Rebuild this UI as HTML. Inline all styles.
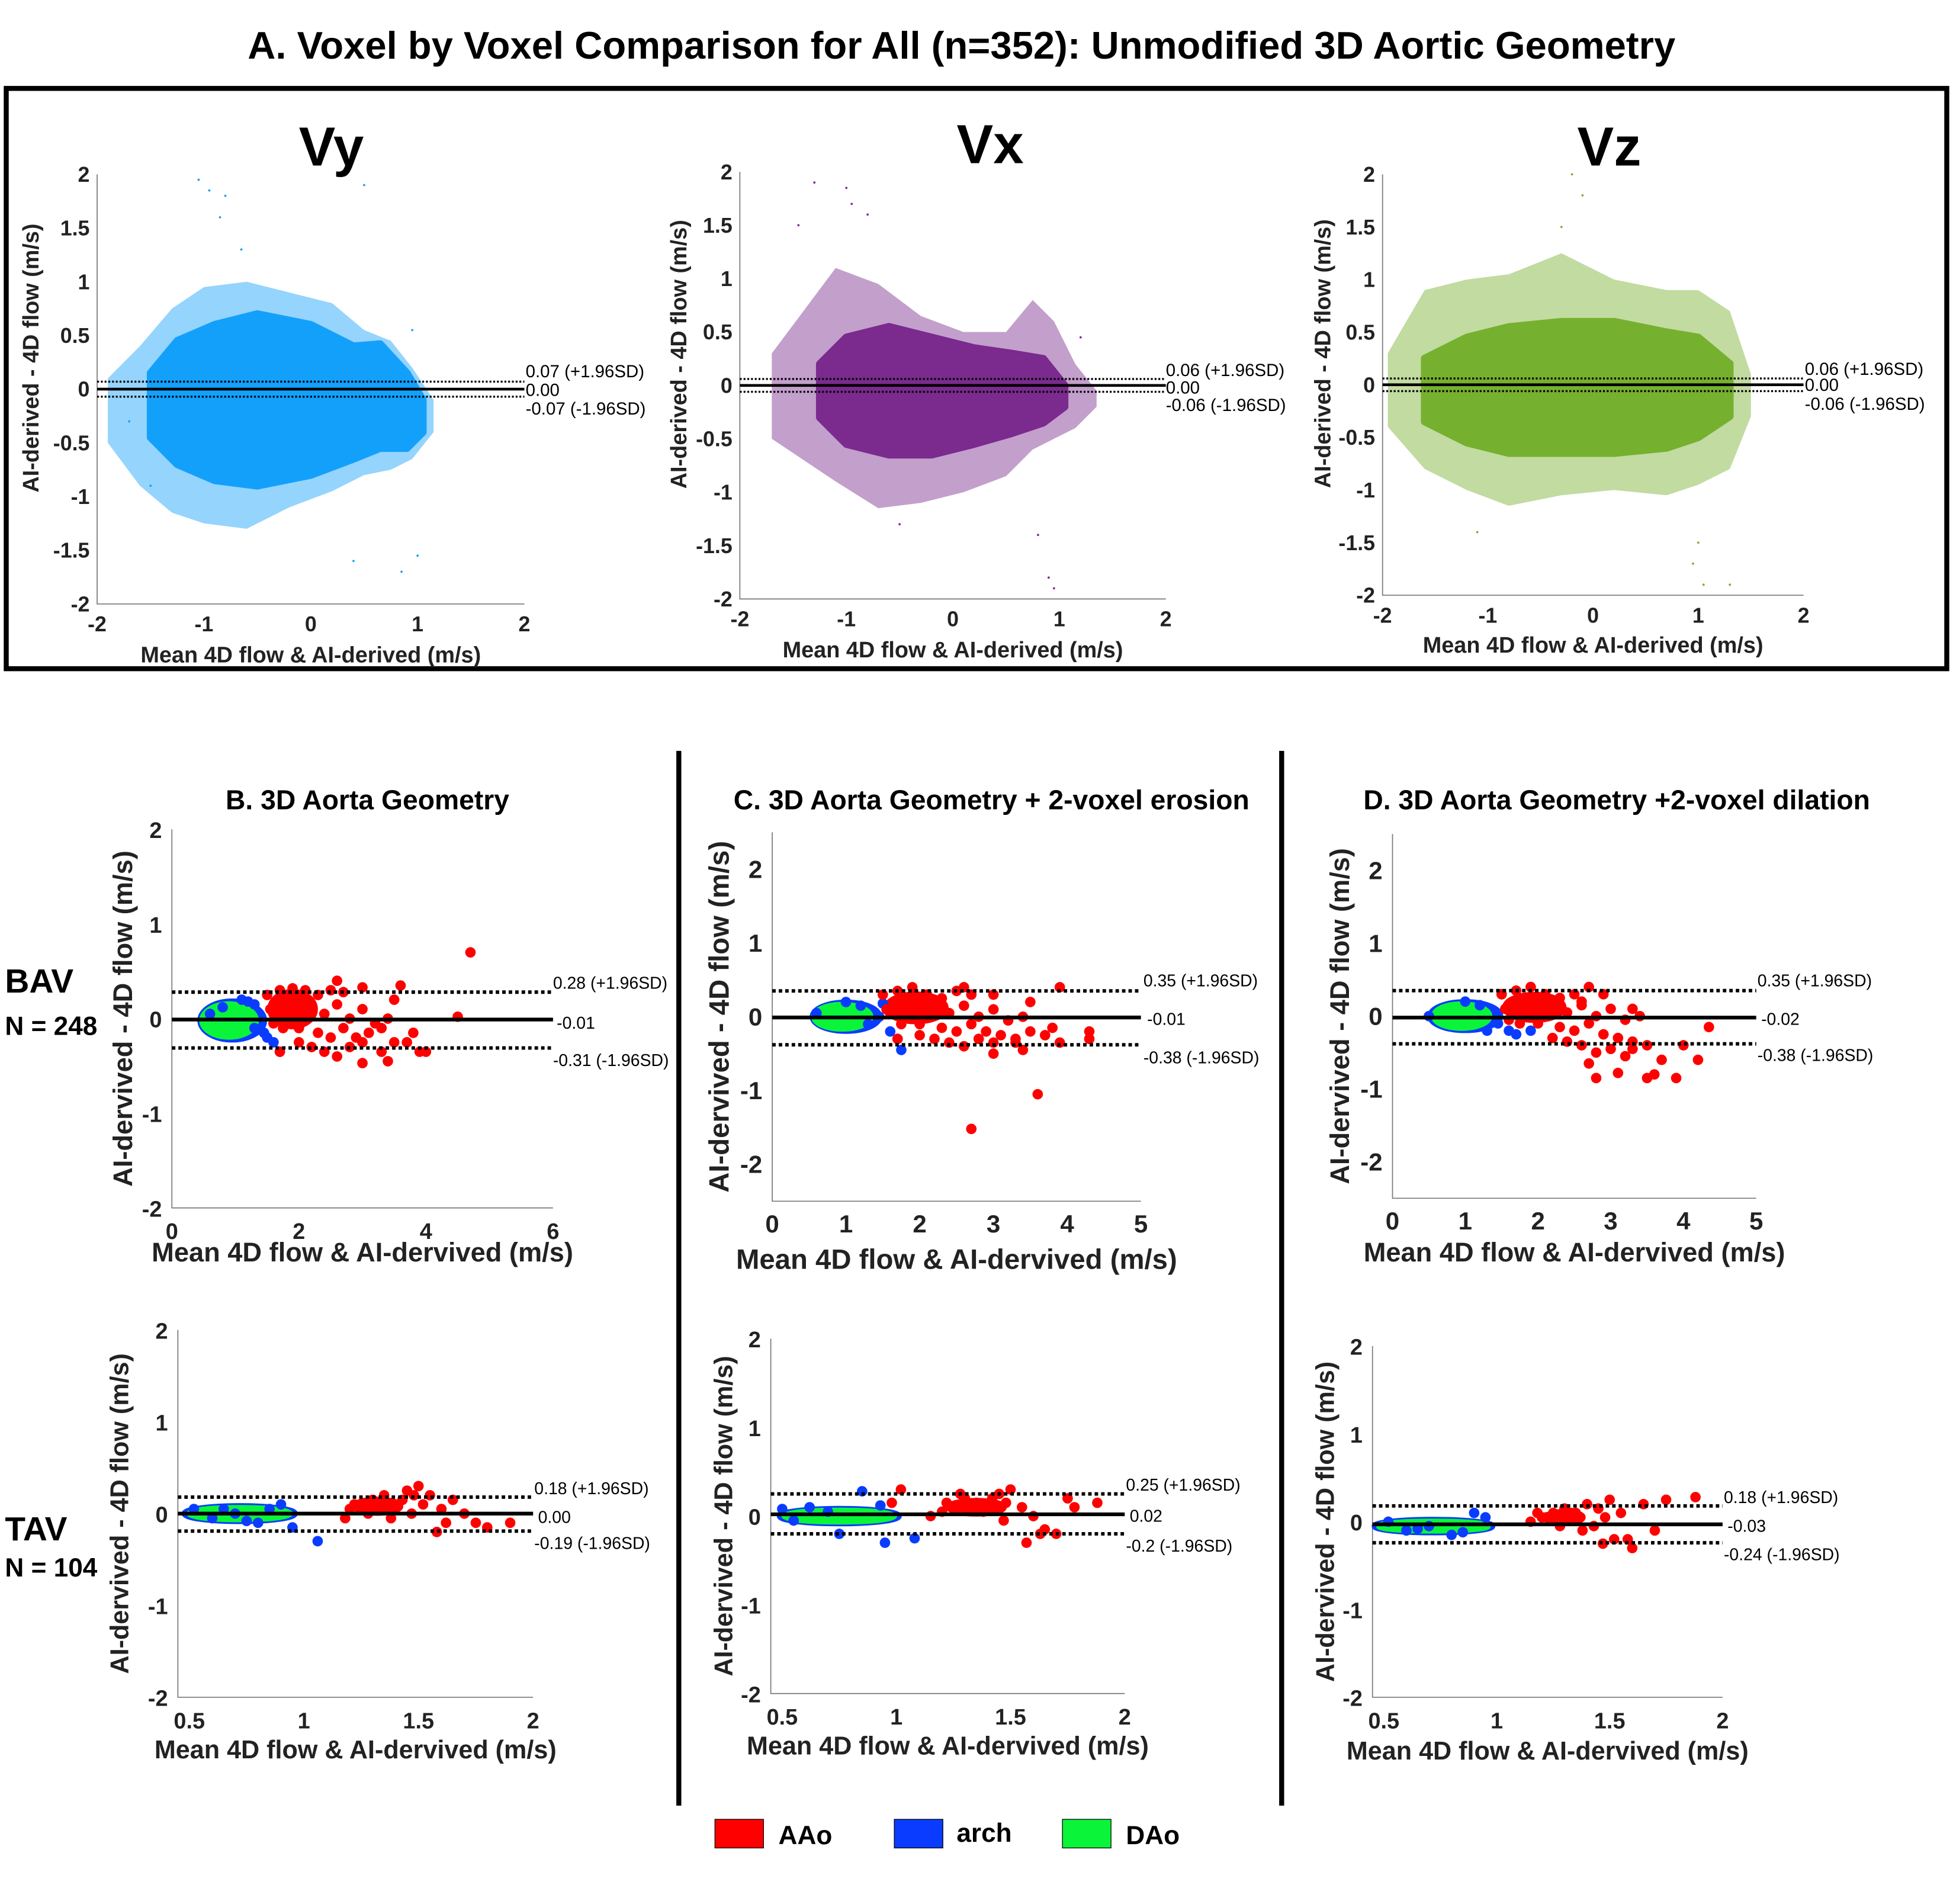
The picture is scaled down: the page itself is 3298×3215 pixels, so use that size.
<!DOCTYPE html>
<html><head><meta charset="utf-8">
<style>
html,body{margin:0;padding:0;background:#fff;}
svg{display:block;}
text{font-family:"Liberation Sans",sans-serif;}
.tk{font-weight:bold;fill:#222;}
.nar{font-family:"Liberation Sans Narrow","Liberation Sans",sans-serif;}
</style></head>
<body>
<svg id="fig" xmlns="http://www.w3.org/2000/svg" width="3298" height="3215" viewBox="0 0 1568 1529" preserveAspectRatio="none">
<rect x="0" y="0" width="1568" height="1529" fill="#fff"/>
<text x="772" y="47" text-anchor="middle" font-size="31" font-weight="bold">A. Voxel by Voxel Comparison for All (n=352): Unmodified 3D Aortic Geometry</text>
<rect x="5" y="71" width="1558" height="466" fill="none" stroke="#000" stroke-width="4"/>
<text x="266" y="133" text-anchor="middle" font-size="44" font-weight="bold">Vy</text>
<text x="795" y="131" text-anchor="middle" font-size="44" font-weight="bold">Vx</text>
<text x="1292" y="133" text-anchor="middle" font-size="44" font-weight="bold">Vz</text>
<text x="295" y="650" text-anchor="middle" font-size="22" font-weight="bold">B. 3D Aorta Geometry</text>
<text x="796" y="650" text-anchor="middle" font-size="22" font-weight="bold">C. 3D Aorta Geometry + 2-voxel erosion</text>
<text x="1298" y="650" text-anchor="middle" font-size="22" font-weight="bold">D. 3D Aorta Geometry +2-voxel dilation</text>
<text x="4" y="797" font-size="27" font-weight="bold">BAV</text>
<text x="4" y="831" font-size="21" font-weight="bold">N = 248</text>
<text x="4" y="1237" font-size="27" font-weight="bold">TAV</text>
<text x="4" y="1266" font-size="21" font-weight="bold">N = 104</text>
<rect x="543" y="603" width="4" height="847" fill="#000"/>
<rect x="1027" y="603" width="4" height="847" fill="#000"/>
<g>
<rect x="574" y="1461" width="39" height="23" fill="#f00" stroke="#000" stroke-width="0.6"/>
<text x="625" y="1481" font-size="21" font-weight="bold">AAo</text>
<rect x="718" y="1461" width="39" height="23" fill="#0a3cff" stroke="#000" stroke-width="0.6"/>
<text x="768" y="1479" font-size="21" font-weight="bold">arch</text>
<rect x="853" y="1461" width="39" height="23" fill="#0af53a" stroke="#000" stroke-width="0.6"/>
<text x="904" y="1481" font-size="21" font-weight="bold">DAo</text>
</g>
<g id="plots"></g>
</svg>
<script>
// ---------- DATA ----------
const vyEnvX=[-1.9,-1.6,-1.3,-1.0,-0.6,-0.2,0.2,0.5,0.75,0.95,1.15];
const vyEnvUp=[0.1,0.4,0.75,0.95,1.0,0.9,0.8,0.55,0.45,0.2,-0.1];
const vyEnvLo=[-0.5,-0.9,-1.15,-1.25,-1.3,-1.1,-0.95,-0.8,-0.75,-0.65,-0.4];
const vyCoreX=[-1.5,-1.25,-0.9,-0.5,0,0.4,0.65,0.9,1.05];
const vyCoreUp=[0.15,0.45,0.6,0.7,0.6,0.4,0.42,0.15,-0.1];
const vyCoreLo=[-0.45,-0.7,-0.85,-0.9,-0.8,-0.65,-0.55,-0.55,-0.4];
const vyOutX=[-1.05,-0.95,-0.85,-0.65,-0.8,0.5,0.95,0.4,0.85,1.0,-1.7,-1.5];
const vyOutY=[1.95,1.85,1.6,1.3,1.8,1.9,0.55,-1.6,-1.7,-1.55,-0.3,-0.9];

const vxEnvX=[-1.7,-1.4,-1.1,-0.7,-0.3,0.1,0.5,0.75,0.95,1.15,1.35];
const vxEnvUp=[0.3,0.7,1.1,0.95,0.65,0.5,0.5,0.8,0.6,0.2,-0.05];
const vxEnvLo=[-0.5,-0.7,-0.9,-1.15,-1.1,-1.0,-0.85,-0.6,-0.5,-0.4,-0.2];
const vxCoreX=[-1.25,-1.0,-0.6,-0.2,0.2,0.55,0.85,1.05];
const vxCoreUp=[0.2,0.45,0.55,0.45,0.35,0.3,0.25,0.0];
const vxCoreLo=[-0.3,-0.55,-0.65,-0.65,-0.55,-0.45,-0.35,-0.2];
const vxOutX=[-1.3,-1.0,-0.95,-0.8,-1.45,0.8,0.9,0.95,-0.5,1.2];
const vxOutY=[1.9,1.85,1.7,1.6,1.5,-1.4,-1.8,-1.9,-1.3,0.45];

const vzEnvX=[-1.95,-1.6,-1.2,-0.8,-0.3,0.2,0.7,1.0,1.3,1.5];
const vzEnvUp=[0.3,0.9,1.0,1.05,1.25,1.0,0.9,0.9,0.7,0.1];
const vzEnvLo=[-0.4,-0.8,-1.0,-1.15,-1.05,-1.0,-1.05,-0.95,-0.8,-0.3];
const vzCoreX=[-1.6,-1.2,-0.8,-0.3,0.2,0.7,1.0,1.3];
const vzCoreUp=[0.25,0.45,0.55,0.6,0.6,0.5,0.45,0.2];
const vzCoreLo=[-0.35,-0.55,-0.65,-0.65,-0.65,-0.6,-0.5,-0.3];
const vzOutX=[-0.2,-0.1,-0.3,1.0,1.05,0.95,-1.1,1.3];
const vzOutY=[2.0,1.8,1.5,-1.5,-1.9,-1.7,-1.4,-1.9];

const topMeans=[0.00,0.00,0.00];
const topUpper=[0.07,0.06,0.06];
const topLower=[-0.07,-0.06,-0.06];
const topTicksX=[-2,-1,0,1,2];
const topTicksY=[-2,-1.5,-1,-0.5,0,0.5,1,1.5,2];

const lowMeans=[-0.01,-0.01,-0.02,0.00,0.02,-0.03];
const lowUpper=[0.28,0.35,0.35,0.18,0.25,0.18];
const lowLower=[-0.31,-0.38,-0.38,-0.19,-0.20,-0.24];
const lowMeanText=["-0.01","-0.01","-0.02","0.00","0.02","-0.03"];
const lowUpText=["0.28 (+1.96SD)","0.35 (+1.96SD)","0.35 (+1.96SD)","0.18 (+1.96SD)","0.25 (+1.96SD)","0.18 (+1.96SD)"];
const lowLoText=["-0.31 (-1.96SD)","-0.38 (-1.96SD)","-0.38 (-1.96SD)","-0.19 (-1.96SD)","-0.2 (-1.96SD)","-0.24 (-1.96SD)"];
const bavTicksXB=[0,2,4,6];
const bavTicksXCD=[0,1,2,3,4,5];
const bavTicksY=[-2,-1,0,1,2];
const tavTicksX=[0.5,1,1.5,2];
const tavTicksY=[-2,-1,0,1,2];

const blueBlobs=[[0.95,-0.02,0.5,0.2],[1.0,0.0,0.45,0.19],[1.0,0.0,0.48,0.19],[0.72,0.0,0.24,0.08],[0.75,0.0,0.26,0.08],[0.72,-0.05,0.26,0.07]];
const greenBlobs=[[0.9,-0.02,0.42,0.17],[0.95,0.0,0.38,0.16],[0.95,0.0,0.38,0.16],[0.72,0.0,0.22,0.06],[0.75,0.0,0.24,0.06],[0.72,-0.05,0.24,0.05]];
const redBlobs=[[1.9,0.1,0.35,0.18],[1.95,0.12,0.4,0.18],[1.95,0.12,0.4,0.17],[1.32,0.08,0.1,0.07],[1.35,0.1,0.12,0.07],[1.3,0.05,0.08,0.06]];
const blueX=[[0.6,1.1,1.3,1.45,1.5,1.7,1.3,1.6,1.2,0.8],[0.6,1.0,1.5,1.6,1.7,1.45,1.3,1.75,1.2],[0.5,1.0,1.5,1.6,1.7,1.45,1.3,1.9,1.2],[0.52,0.6,0.7,0.8,0.85,0.95,1.06,0.65,0.75,0.9],[0.5,0.55,0.62,0.75,0.85,0.95,1.08,0.7,0.93],[0.52,0.6,0.7,0.85,0.95,0.8,0.9,0.65]];
const blueY=[[0.05,0.2,0.15,-0.15,-0.2,-0.35,-0.1,-0.25,0.18,0.12],[0.05,0.2,0.18,-0.2,-0.3,0.0,-0.1,-0.45,0.15],[0.0,0.2,0.3,-0.2,-0.25,-0.1,-0.2,-0.2,0.15],[0.05,-0.05,0.0,-0.1,0.05,-0.15,-0.3,0.05,-0.08,0.1],[0.08,-0.05,0.1,-0.2,0.28,-0.3,-0.25,0.05,0.12],[0.0,-0.1,-0.05,-0.12,0.05,-0.15,0.1,-0.08]];
const redX=[
[1.5,1.7,1.9,2.1,2.3,2.5,2.7,3.0,3.6,2.6,3.5,2.2,2.4,2.6,2.8,3.0,3.2,2.0,2.3,2.5,2.7,2.9,3.1,3.3,3.5,2.2,2.4,2.6,2.8,3.0,3.3,3.4,3.0,3.9,4.0,3.7,2.0,1.7,4.5,4.7,1.8,1.6,3.8,2.1,3.4,1.65,1.85,2.0,1.55,1.75],
[1.5,1.7,1.9,2.1,2.3,2.5,2.7,3.0,3.9,2.6,3.5,2.2,2.4,2.6,2.8,3.0,3.2,2.0,2.3,2.5,2.7,2.9,3.1,3.3,3.5,2.2,2.4,2.6,2.8,3.0,3.3,3.4,3.0,3.9,4.3,3.7,2.0,1.7,4.3,3.6,2.7,1.6,3.8,2.1,3.4,1.65,1.85,2.0,1.55,1.75],
[1.5,1.7,1.9,2.1,2.3,2.5,2.7,2.9,2.6,3.3,2.2,2.4,2.6,2.8,3.0,3.2,2.0,2.3,2.5,2.7,2.9,3.1,3.3,3.5,2.2,2.4,2.6,2.8,3.0,3.3,3.2,2.7,3.5,3.7,4.0,4.2,3.9,4.35,1.8,1.6,2.1,3.4,1.65,1.85,2.0,1.55,1.75,2.8,3.1,3.6],
[1.2,1.25,1.3,1.35,1.4,1.45,1.5,1.55,1.6,1.65,1.7,1.75,1.8,1.9,1.28,1.38,1.48,1.52,1.33,1.43,1.58,1.62,1.22,1.18,1.47],
[1.15,1.2,1.25,1.3,1.35,1.4,1.45,1.5,1.55,1.6,1.65,1.7,1.75,1.78,1.88,1.02,0.98,1.28,1.38,1.48,1.57,1.63,1.22,1.47,1.42],
[1.15,1.2,1.25,1.3,1.35,1.4,1.45,1.5,1.55,1.58,1.6,1.65,1.7,1.75,1.88,1.28,1.38,1.48,1.52,1.33,1.43,1.22,1.18,1.3,1.47]];
const redY=[
[0.25,0.3,0.32,0.3,0.25,0.3,0.28,0.33,0.35,0.4,0.2,0.1,0.05,0.15,0.0,0.1,-0.05,-0.1,-0.15,-0.2,-0.1,-0.2,-0.15,-0.1,-0.25,-0.3,-0.35,-0.4,-0.3,-0.25,-0.35,-0.45,-0.47,-0.35,-0.35,-0.25,-0.25,-0.35,0.02,0.7,0.05,-0.05,-0.15,0.2,0.0,0.15,0.2,0.1,0.1,-0.1],
[0.3,0.35,0.4,0.3,0.25,0.35,0.3,0.3,0.4,0.4,0.2,0.1,0.05,0.15,0.0,0.1,-0.05,-0.1,-0.15,-0.2,-0.1,-0.2,-0.25,-0.3,-0.2,-0.3,-0.35,-0.4,-0.3,-0.35,-0.35,-0.45,-0.5,-0.35,-0.2,-0.25,-0.25,-0.3,-0.3,-1.05,-1.52,0.05,-0.15,0.2,0.0,0.15,0.2,0.1,0.1,-0.1],
[0.3,0.35,0.4,0.3,0.25,0.3,0.4,0.3,0.2,0.1,0.1,0.05,0.15,0.0,0.1,-0.05,-0.1,-0.15,-0.2,-0.1,-0.25,-0.3,-0.35,-0.4,-0.3,-0.35,-0.4,-0.5,-0.45,-0.45,-0.55,-0.65,-0.85,-0.6,-0.4,-0.6,-0.85,-0.15,0.05,-0.05,0.2,0.0,0.15,0.2,0.1,0.1,-0.1,-0.85,-0.78,-0.8],
[0.05,0.1,0.15,0.2,0.1,0.25,0.3,0.2,0.05,0.15,0.0,-0.1,-0.15,-0.1,0.0,-0.05,0.2,0.1,0.05,0.15,-0.2,-0.1,0.1,-0.05,0.0],
[0.0,0.05,0.1,0.2,0.15,0.1,0.25,0.3,0.1,0.0,-0.15,-0.2,0.2,0.1,0.15,0.3,0.15,0.25,0.05,0.15,-0.3,-0.2,0.15,-0.05,0.2],
[0.0,0.05,0.1,0.15,0.1,0.2,0.15,0.25,0.1,-0.2,-0.3,0.2,-0.1,0.25,0.28,-0.05,-0.1,0.05,-0.2,0.1,-0.05,0.05,0.1,0.12,-0.25]];

// ---------- LAYOUT ----------
const topCfg=[
 {x0:78,x1:421,y2:140,ym2:485,yl:25,xlY:532,lx:422,ly:[298,313,328]},
 {x0:594,x1:936,y2:138,ym2:481,yl:545,xlY:528,lx:936,ly:[297,311,325]},
 {x0:1110,x1:1448,y2:140,ym2:478,yl:1062,xlY:524,lx:1449,ly:[296,309,324]}];
const lowCfg=[
 {x0:138,x1:444,xd:[0,6],y2:666,ym2:970,top:2,bot:-2,ticks:'B',yl:100,xlY:1013,lx:444,ly:[789,821,851],xls:21.5},
 {x0:620,x1:916,xd:[0,5],y2:698,ym2:935,top:2.5,bot:-2.5,ticks:'C',yl:579,xlY:1019,lx:918,ly:[787,818,849],xls:22.5},
 {x0:1118,x1:1410,xd:[0,5],y2:699,ym2:933,top:2.5,bot:-2.5,ticks:'C',yl:1077,xlY:1013,lx:1411,ly:[787,818,847],xls:21.5},
 {x0:152,x1:428,xd:[0.5,2],y2:1068,ym2:1363,top:2,bot:-2,ticks:'T',yl:97,xlY:1412,lx:429,ly:[1195,1218,1239],xls:20.5,xMin:0.45},
 {x0:628,x1:903,xd:[0.5,2],y2:1075,ym2:1360,top:2,bot:-2,ticks:'T',yl:582,xlY:1409,lx:904,ly:[1192,1217,1241],xls:20.5,xMin:0.45},
 {x0:1111,x1:1383,xd:[0.5,2],y2:1081,ym2:1363,top:2,bot:-2,ticks:'T',yl:1065,xlY:1413,lx:1384,ly:[1202,1225,1248],xls:20.5,xMin:0.45}];

const NS='http://www.w3.org/2000/svg';
const root=document.getElementById('plots');
function mk(tag,attrs,parent){const e=document.createElementNS(NS,tag);for(const k in attrs)e.setAttribute(k,attrs[k]);parent.appendChild(e);return e;}
function scale(d0,d1,p0,p1){return v=>p0+(v-d0)/(d1-d0)*(p1-p0);}
function envPts(X,U,L,sx,sy){const a=[];for(let i=0;i<X.length;i++)a.push(sx(X[i])+','+sy(U[i]));for(let i=X.length-1;i>=0;i--)a.push(sx(X[i])+','+sy(L[i]));return a.join(' ');}
function fmt(v){return v.toFixed(2);}

// ---------- TOP ROW ----------
const topSets=[
 {name:'vy',col:'#13a0fb',EX:vyEnvX,EU:vyEnvUp,EL:vyEnvLo,CX:vyCoreX,CU:vyCoreUp,CL:vyCoreLo,OX:vyOutX,OY:vyOutY},
 {name:'vx',col:'#7b2a8e',EX:vxEnvX,EU:vxEnvUp,EL:vxEnvLo,CX:vxCoreX,CU:vxCoreUp,CL:vxCoreLo,OX:vxOutX,OY:vxOutY},
 {name:'vz',col:'#76b02f',EX:vzEnvX,EU:vzEnvUp,EL:vzEnvLo,CX:vzCoreX,CU:vzCoreUp,CL:vzCoreLo,OX:vzOutX,OY:vzOutY}];
topSets.forEach((s,i)=>{
 const c=topCfg[i];
 const sx=scale(-2,2,c.x0,c.x1), sy=scale(2,-2,c.y2,c.ym2);
 const g=mk('g',{},root);
 
 
 const ax=mk('path',{d:`M${c.x0},${c.y2} V${c.ym2} H${c.x1}`,fill:'none',stroke:'#777','stroke-width':0.8},g);
 
 
 topTicksY.forEach(t=>{
  const tx=mk('text',{x:c.x0-6,y:sy(t)+6,'text-anchor':'end','font-size':17,class:'tk nar'},g);
  tx.textContent=String(t);
  
  
 });
 topTicksX.forEach(t=>{
  const tx=mk('text',{x:sx(t),y:c.ym2+22,'text-anchor':'middle','font-size':17,class:'tk nar'},g);
  tx.textContent=String(t);
  
  
 });
 const env=mk('polygon',{points:envPts(s.EX,s.EU,s.EL,sx,sy),fill:s.col,opacity:0.45,'stroke-linejoin':'round'},g);
 
 
 const core=mk('polygon',{points:envPts(s.CX,s.CU,s.CL,sx,sy),fill:s.col,stroke:s.col,'stroke-width':6,'stroke-linejoin':'round'},g);
 
 
 s.OX.forEach((x,k)=>{
  const p=mk('circle',{cx:sx(x),cy:sy(s.OY[k]),r:0.9,fill:s.col},g);
  
  
 });
 const ml=mk('line',{x1:c.x0,x2:c.x1,y1:sy(topMeans[i]),y2:sy(topMeans[i]),stroke:'#000','stroke-width':2.2},g);
 
 
 [topUpper[i],topLower[i]].forEach((v,k)=>{
  const l=mk('line',{x1:c.x0,x2:c.x1,y1:sy(v),y2:sy(v),stroke:'#000','stroke-width':1.6,'stroke-dasharray':'1.5,1.5'},g);
  
  
 });
 const labs=[fmt(topUpper[i])+' (+1.96SD)',fmt(topMeans[i]),fmt(topLower[i])+' (-1.96SD)'];
 labs.forEach((t,k)=>{
  const tx=mk('text',{x:c.lx,y:c.ly[k]+5,'font-size':14,class:'nar'},g);
  tx.textContent=t;
  
  
 });
 const xl=mk('text',{x:(c.x0+c.x1)/2,y:c.xlY,'text-anchor':'middle','font-size':18,class:'tk'},g);
 xl.textContent='Mean 4D flow & AI-derived (m/s)';
 
 
 const yc=(c.y2+c.ym2)/2-25;
 const yl=mk('text',{x:c.yl,y:yc,'text-anchor':'middle','font-size':18,class:'tk',transform:`rotate(-90 ${c.yl} ${yc})`,dy:6},g);
 yl.textContent='AI-derived - 4D flow (m/s)';
 
 
});

// ---------- LOWER PANELS ----------
const panelNames=['b-bav','c-bav','d-bav','b-tav','c-tav','d-tav'];
lowCfg.forEach((c,i)=>{
 const nm=panelNames[i];
 const sx=scale(c.xd[0],c.xd[1],c.x0,c.x1), sy=scale(2,-2,c.y2,c.ym2);
 const g=mk('g',{},root);
 
 
 const xStart=c.xMin!==undefined?sx(c.xMin):c.x0;
 const ax=mk('path',{d:`M${xStart},${sy(c.top)} V${sy(c.bot)} H${c.x1}`,fill:'none',stroke:'#777','stroke-width':0.8},g);
 
 
 const tX=c.ticks==='B'?bavTicksXB:c.ticks==='C'?bavTicksXCD:tavTicksX;
 const tY=c.ticks==='T'?tavTicksY:bavTicksY;
 const big=c.ticks==='C'?20:18;
 tY.forEach(t=>{
  const tx=mk('text',{x:xStart-8,y:sy(t)+7,'text-anchor':'end','font-size':big,class:'tk'},g);
  tx.textContent=String(t);
  
  
 });
 tX.forEach(t=>{
  const tx=mk('text',{x:sx(t),y:sy(c.bot)+25,'text-anchor':'middle','font-size':big,class:'tk'},g);
  tx.textContent=String(t);
  
  
 });
 function blob(b,col){
  return mk('ellipse',{cx:sx(b[0]),cy:sy(b[1]),rx:Math.abs(sx(b[0]+b[2])-sx(b[0])),ry:Math.abs(sy(b[1]+b[3])-sy(b[1])),fill:col,stroke:col,'stroke-width':5},g);
 }
 const bb=blob(blueBlobs[i],'#0a3cff');
 
 
 const rb=blob(redBlobs[i],'#f00');
 
 
 const gb=blob(greenBlobs[i],'#0af53a');
 
 
 const r=4.2;
 blueX[i].forEach((x,k)=>{
  const p=mk('circle',{cx:sx(x),cy:sy(blueY[i][k]),r:r,fill:'#0a3cff'},g);
  
  
 });
 redX[i].forEach((x,k)=>{
  const p=mk('circle',{cx:sx(x),cy:sy(redY[i][k]),r:r,fill:'#f00'},g);
  
  
 });
 const ml=mk('line',{x1:xStart,x2:c.x1,y1:sy(lowMeans[i]),y2:sy(lowMeans[i]),stroke:'#000','stroke-width':3},g);
 
 
 [lowUpper[i],lowLower[i]].forEach((v,k)=>{
  const l=mk('line',{x1:xStart,x2:c.x1,y1:sy(v),y2:sy(v),stroke:'#000','stroke-width':2.8,'stroke-dasharray':'2.8,2.4'},g);
  
  
 });
 [lowUpText[i],lowMeanText[i],lowLoText[i]].forEach((t,k)=>{
  const tx=mk('text',{x:c.lx+(k===1?3:0),y:c.ly[k]+5,'font-size':13.5,class:'nar'},g);
  tx.textContent=t;
  
  
 });
 const xl=mk('text',{x:(xStart+c.x1)/2,y:c.xlY,'text-anchor':'middle','font-size':c.xls,class:'tk'},g);
 xl.textContent='Mean 4D flow & AI-dervived (m/s)';
 
 
 const yc=sy(0);
 const yl=mk('text',{x:c.yl,y:yc,'text-anchor':'middle','font-size':c.xls,class:'tk',transform:`rotate(-90 ${c.yl} ${yc})`,dy:6},g);
 yl.textContent='AI-dervived - 4D flow (m/s)';
 
 
});
</script>
</body></html>
